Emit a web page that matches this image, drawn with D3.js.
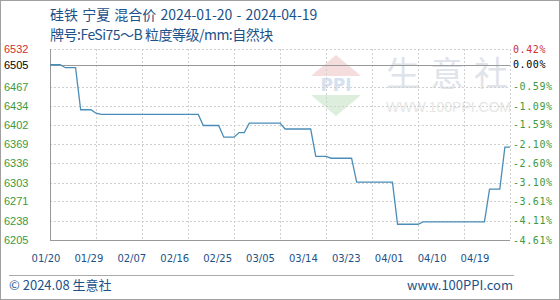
<!DOCTYPE html>
<html>
<head>
<meta charset="utf-8">
<style>
	body { margin:0; background:#fff; }
	svg { display:block; }
</style>
</head>
<body>
<div id="chart"></div>
<script src="https://cdn.jsdelivr.net/npm/d3@7"></script>
<script>

// price points (only where the line changes direction)
var dates = ["2024-01-20","2024-01-22","2024-01-23","2024-01-25","2024-01-26","2024-01-28","2024-01-29","2024-01-30",
	"2024-02-18","2024-02-19","2024-02-22","2024-02-23","2024-02-25","2024-02-26","2024-02-27","2024-02-28",
	"2024-03-05","2024-03-06","2024-03-11","2024-03-12","2024-03-14","2024-03-15","2024-03-19","2024-03-20",
	"2024-03-27","2024-03-28","2024-04-01","2024-04-02","2024-04-14","2024-04-15","2024-04-17","2024-04-18","2024-04-19"];
var prices = [6505,6505,6500,6500,6428,6428,6422,6420,
	6420,6401,6401,6381,6381,6389,6389,6405,
	6405,6395,6395,6348,6348,6345,6345,6304,
	6304,6232,6232,6236,6236,6292,6292,6364,6364];

var basePrice = 6505;
var leftTicks = [6532,6505,6467,6434,6402,6369,6336,6303,6271,6238,6205];
var rightTicks = ["0.42%","0.00%","-0.59%","-1.09%","-1.59%","-2.10%","-2.60%","-3.10%","-3.61%","-4.11%","-4.61%"];
var xLabels = ["01/20","01/29","02/07","02/16","02/25","03/05","03/14","03/23","04/01","04/10","04/19"];
var watermark = ["生","意","社"];

var width = 560, height = 300;
var parse = d3.timeParse("%Y-%m-%d");
var data = dates.map(function(d, i){ return {date: parse(d), value: prices[i]}; });

var x = d3.scaleTime().domain([parse("2024-01-20"), parse("2024-04-19")]).range([50, 510]);
var y = d3.scaleLinear().domain([6205, 6532]).range([240, 49]);
var xl = d3.scalePoint().domain(xLabels).range([46, 475]);
var wx = d3.scalePoint().domain(watermark).range([386, 474]);

var svg = d3.select("#chart").append("svg")
	.attr("width", width).attr("height", height);

// outer frame
svg.append("rect").attr("x",0.5).attr("y",0.5).attr("width",width-1).attr("height",height-1)
	.attr("fill","#fff").attr("stroke","#a0a0a0");

// title
var blue = "#1d5289";
svg.append("text").attr("x",50).attr("y",20)
	.style("font-family","'Noto Sans CJK SC'").style("font-size","14px").style("word-spacing","1px")
	.attr("fill",blue)
	.text("硅铁 宁夏 混合价 2024-01-20 - 2024-04-19");
svg.append("text").attr("x",50).attr("y",40)
	.style("font-family","'Noto Sans CJK SC'").style("font-size","14px").style("letter-spacing","-0.5px")
	.attr("fill",blue)
	.text("牌号:FeSi75～B 粒度等级/mm:自然块");

// watermark
var wm = svg.append("g").attr("opacity",0.35);
wm.append("path").attr("d","M311,76 L336,55 L361,76 Z").attr("fill","#e8a0a0");
wm.append("path").attr("d","M311,95 L361,95 L336,116 Z").attr("fill","#9fd09f");
wm.append("text").attr("x",336).attr("y",91).attr("text-anchor","middle")
	.style("font-family","'DejaVu Sans'").style("font-weight","bold").style("font-size","17px")
	.attr("fill","#8aa8d8").text("PPI");
svg.selectAll(".wm").data(watermark).enter().append("text")
	.attr("x",function(d){ return wx(d); }).attr("y",86)
	.style("font-family","'Noto Sans CJK SC'").style("font-size","34px")
	.attr("fill","#dfe3ea").text(function(d){ return d; });
svg.append("text").attr("x",386).attr("y",112)
	.style("font-family","'Liberation Sans'").style("font-size","14px")
	.attr("fill","#e6e6e6").text("WWW.100PPI.COM");

// grid
var grid = svg.append("g");
grid.selectAll(".hg").data(leftTicks.filter(function(v){ return v != basePrice; }))
	.enter().append("line")
	.attr("x1",50).attr("x2",510)
	.attr("y1",function(d){ return Math.round(y(d))+0.5; })
	.attr("y2",function(d){ return Math.round(y(d))+0.5; })
	.attr("stroke","#d0d0d0").attr("stroke-dasharray","2,2");
var vticks = d3.range(0, 11).map(function(i){ return d3.timeDay.offset(parse("2024-01-20"), i*9); });
grid.selectAll(".vg").data(vticks.slice(1))
	.enter().append("line")
	.attr("x1",function(d){ return Math.round(x(d))+0.5; })
	.attr("x2",function(d){ return Math.round(x(d))+0.5; })
	.attr("y1",49).attr("y2",240)
	.attr("stroke","#d0d0d0").attr("stroke-dasharray","2,2");

// base line
svg.append("line").attr("x1",50).attr("x2",510)
	.attr("y1",Math.round(y(basePrice))+0.5).attr("y2",Math.round(y(basePrice))+0.5)
	.attr("stroke","#999");

// left and bottom axis lines
svg.append("line").attr("x1",50.5).attr("x2",50.5).attr("y1",49).attr("y2",240.5).attr("stroke","#999");
svg.append("line").attr("x1",50).attr("x2",510).attr("y1",240.5).attr("y2",240.5).attr("stroke","#999");

// price line
svg.append("path").datum(data)
	.attr("fill","none").attr("stroke","#4a8db8").attr("stroke-width",1.3)
	.attr("d", d3.line().x(function(d){ return x(d.date); }).y(function(d){ return y(d.value); }));

// left labels
svg.selectAll(".ly").data(leftTicks).enter().append("text")
	.attr("x",4).attr("y",function(d){ return y(d); }).attr("dy","0.35em")
	.style("font-family","'Liberation Sans'").style("font-size","11px")
	.attr("fill",function(d){ return d > basePrice ? "#d03030" : (d == basePrice ? "#000" : "#3c9a3c"); })
	.text(function(d){ return d; });

// right labels
svg.selectAll(".ry").data(rightTicks).enter().append("text")
	.attr("x",513).attr("y",function(d,i){ return y(leftTicks[i]); }).attr("dy","0.35em")
	.style("font-family","'DejaVu Sans Mono'").style("font-size","10px").style("letter-spacing","0.6px")
	.attr("fill",function(d,i){ return leftTicks[i] > basePrice ? "#d03030" : (leftTicks[i] == basePrice ? "#000" : "#3c9a3c"); })
	.text(function(d){ return d; });

// x labels
svg.selectAll(".xl").data(xLabels).enter().append("text")
	.attr("x",function(d){ return xl(d); }).attr("y",258).attr("dy","0.35em")
	.attr("text-anchor","middle")
	.style("font-family","'DejaVu Sans'").style("font-size","10px")
	.attr("fill",blue)
	.text(function(d){ return d; });

// footer
svg.append("line").attr("x1",9).attr("x2",514).attr("y1",275.5).attr("y2",275.5).attr("stroke","#aaa");
svg.append("text").attr("x",9).attr("y",285).attr("dy","0.35em")
	.style("font-family","'Noto Sans CJK SC'").style("font-size","13px").attr("fill",blue)
	.text("© 2024.08 生意社");
svg.append("text").attr("x",513).attr("y",285).attr("dy","0.35em").attr("text-anchor","end")
	.style("font-family","'Noto Sans CJK SC'").style("font-size","13px").attr("fill",blue)
	.text("www.100PPI.com");

</script>
</body>
</html>
